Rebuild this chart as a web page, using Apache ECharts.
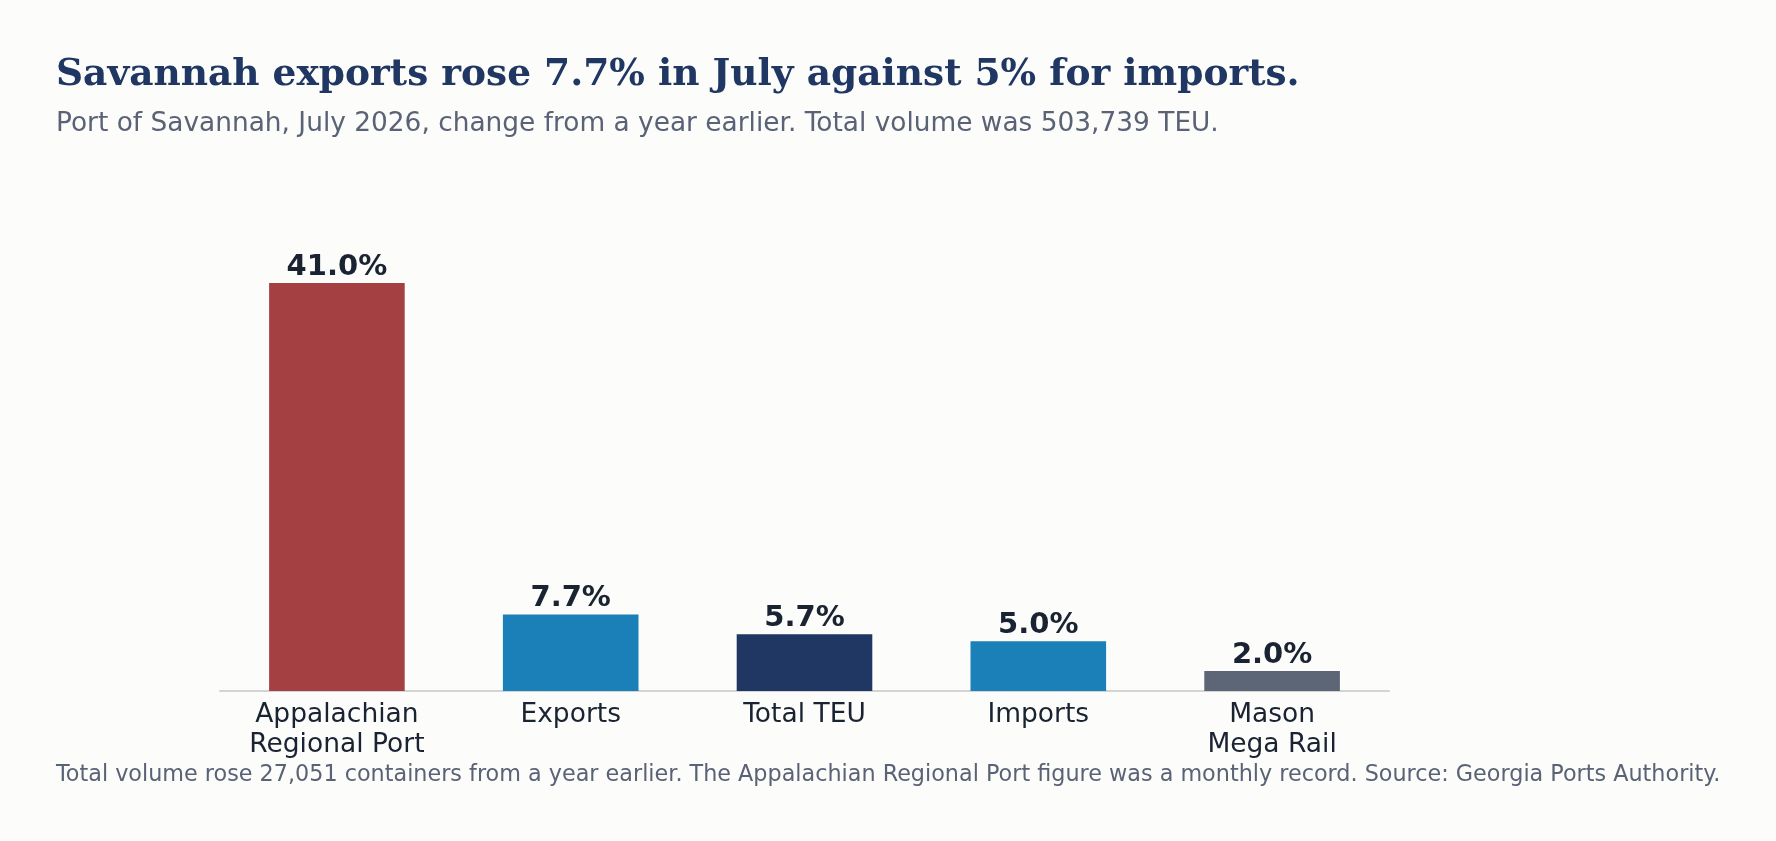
<!DOCTYPE html>
<html>
<head>
<meta charset="utf-8">
<script src="https://cdn.jsdelivr.net/npm/echarts@6/dist/echarts.min.js"></script>
<style>
  html, body { margin: 0; padding: 0; background: #fcfcfa; }
  #chart { width: 1776px; height: 841px; }
</style>
</head>
<body>
<div id="chart"></div>
<script>
const categories = ['Appalachian\nRegional Port', 'Exports', 'Total TEU', 'Imports', 'Mason\nMega Rail'];
const changePct = [41.0, 7.7, 5.7, 5.0, 2.0];
const barColors = ['#a43f42', '#1b80b8', '#1f3762', '#1b80b8', '#5c6676'];

const titleText = 'Savannah exports rose 7.7% in July against 5% for imports.';
const subtitleText = 'Port of Savannah, July 2026, change from a year earlier. Total volume was 503,739 TEU.';
const footerText = 'Total volume rose 27,051 containers from a year earlier. The Appalachian Regional Port figure was a monthly record. Source: Georgia Ports Authority.';

const chart = echarts.init(document.getElementById('chart'), null, { renderer: 'canvas' });
chart.setOption({
  backgroundColor: '#fcfcfa',
  animation: false,
  title: [
    {
      text: titleText,
      left: 56, top: 56, padding: 0,
      textStyle: { fontFamily: 'DejaVu Serif', fontWeight: 'bold', fontSize: 37.5, color: '#1f3762' }
    },
    {
      text: subtitleText,
      left: 56, top: 111, padding: 0,
      textStyle: { fontFamily: 'DejaVu Sans', fontWeight: 'normal', fontSize: 26.4, color: '#5a6275' }
    },
    {
      text: footerText,
      left: 56, top: 764, padding: 0,
      textStyle: { fontFamily: 'DejaVu Sans', fontWeight: 'normal', fontSize: 22.3, color: '#5a6275' }
    }
  ],
  grid: { left: 220, right: 387, top: 283, bottom: 150, containLabel: false },
  xAxis: {
    type: 'category',
    data: categories,
    axisLine: { show: true, lineStyle: { color: '#d4d4d4', width: 2 } },
    axisTick: { show: false },
    axisLabel: {
      fontFamily: 'DejaVu Sans', fontSize: 26.5, color: '#1a2332',
      lineHeight: 30, margin: 9, interval: 0
    }
  },
  yAxis: {
    type: 'value', min: 0, max: 41,
    show: false,
    splitLine: { show: false }
  },
  series: [{
    type: 'bar',
    barWidth: '58%',
    data: changePct.map((v, i) => ({ value: v, itemStyle: { color: barColors[i] } })),
    label: {
      show: true, position: 'top', distance: 1,
      formatter: p => p.value.toFixed(1) + '%',
      fontFamily: 'DejaVu Sans', fontWeight: 'bold', fontSize: 29, color: '#1a2332'
    }
  }]
});
</script>
</body>
</html>
